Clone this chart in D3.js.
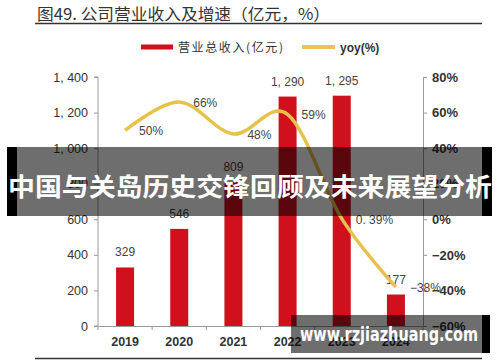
<!DOCTYPE html>
<meta charset="utf-8">
<style>
body { margin: 0; background: #fff; }
svg { display: block; }
.cn { font-family: "Noto Sans CJK SC", sans-serif; }
.num { font-family: "Liberation Sans", Arial, sans-serif; }
</style>
<body>
<script src="https://d3js.org/d3.v7.min.js"></script>
<script>

var years = ["2019", "2020", "2021", "2022", "2023", "2024"];
var revenue = [329, 546, 809, 1290, 1295, 177];
var yoy = [50, 66, 48, 59, 0.39, -38];
var leftTicks = [0, 200, 400, 600, 800, 1000, 1200, 1400];
var rightTicks = [-60, -40, -20, 0, 20, 40, 60, 80];

var width = 500, height = 362;

var svg = d3.select("body").append("svg")
    .attr("width", width)
    .attr("height", height);

var x = d3.scaleBand().domain(years).range([98, 423]);
var y = d3.scaleLinear().domain([0, 1400]).range([326, 77]);
var y2 = d3.scaleLinear().domain([-60, 80]).range([326, 77]);

var fmt = function(v) { return d3.format(",")(v).replace(",", ", "); };

// title
svg.append("text").attr("class", "cn")
    .attr("x", 37).attr("y", 20)
    .attr("textLength", 293).attr("lengthAdjust", "spacingAndGlyphs")
    .style("font-size", "16px").style("font-weight", 400).style("fill", "#333")
    .text("图49. 公司营业收入及增速（亿元，%）");
svg.append("line").attr("x1", 35).attr("x2", 482).attr("y1", 23.5).attr("y2", 23.5)
    .style("stroke", "#333").style("stroke-width", 1.5);

// legend
svg.append("rect").attr("x", 141).attr("y", 44.5).attr("width", 32).attr("height", 5)
    .style("fill", "#d0101c");
svg.append("text").attr("class", "cn").attr("x", 178).attr("y", 51.5)
    .attr("textLength", 105)
    .style("font-size", "12px").style("fill", "#333").text("营业总收入(亿元)");
svg.append("line").attr("x1", 302).attr("x2", 335).attr("y1", 47).attr("y2", 47)
    .style("stroke", "#e8c25a").style("stroke-width", 4);
svg.append("text").attr("class", "num").attr("x", 340).attr("y", 51.5)
    .style("font-size", "12px").style("font-weight", "bold").style("fill", "#333").text("yoy(%)");

// axes
var axisColor = "#9a9a9a";
var gl = svg.append("g").attr("transform", "translate(98,0)")
    .call(d3.axisLeft(y).tickValues(leftTicks).tickSize(4).tickFormat(fmt));
var gr = svg.append("g").attr("transform", "translate(423,0)")
    .call(d3.axisRight(y2).tickValues(rightTicks).tickSize(4).tickFormat(function(d) {
      return (d < 0 ? "\u2212" + (-d) : d) + "%";
    }));
var gb = svg.append("g").attr("transform", "translate(0,326)")
    .call(d3.axisBottom(x).tickSize(0).tickPadding(11));
gb.selectAll(".tick").append("line")
    .attr("x1", -x.bandwidth() / 2).attr("x2", -x.bandwidth() / 2).attr("y2", 4);
gb.append("line").attr("x1", 423).attr("x2", 423).attr("y2", 4);

[gl, gr, gb].forEach(function(g) {
  g.select(".domain").style("stroke", axisColor);
  g.selectAll("line").style("stroke", axisColor);
  g.selectAll("text").style("fill", "#333").style("font-size", "12.5px")
      .style("font-family", "'Liberation Sans', Arial, sans-serif");
});
gl.select(".domain").attr("d", "M-4,77H0V326H-4");
gr.selectAll("text").style("font-family", "'Liberation Sans Narrow', 'Liberation Sans', sans-serif")
    .style("font-size", "13px").style("font-weight", "bold").attr("x", 9);
gl.selectAll("text").attr("x", -10);
gb.selectAll("text").style("font-weight", "bold");

// bars
var bw = 18;
svg.selectAll(".bar").data(revenue).enter().append("rect")
    .attr("class", "bar")
    .attr("x", function(d, i) { return x(years[i]) + x.bandwidth() / 2 - bw / 2; })
    .attr("y", function(d) { return y(d); })
    .attr("width", bw)
    .attr("height", function(d) { return y(0) - y(d); })
    .style("fill", "#d0101c");

svg.selectAll(".blab").data(revenue).enter().append("text")
    .attr("class", "num")
    .attr("x", function(d, i) { return x(years[i]) + x.bandwidth() / 2; })
    .attr("y", function(d) { return y(d) - 11; })
    .attr("text-anchor", "middle")
    .style("font-size", "12px").style("fill", "#444")
    .text(fmt);

// yoy line
var line = d3.line()
    .x(function(d, i) { return x(years[i]) + x.bandwidth() / 2; })
    .y(function(d) { return y2(d); })
    .curve(d3.curveCardinal.tension(0));
svg.append("path").datum(yoy)
    .attr("d", line)
    .style("fill", "none").style("stroke", "#e8c04c").style("stroke-width", 3.5);

svg.selectAll(".ylab").data(yoy).enter().append("text")
    .attr("class", "num")
    .attr("x", function(d, i) { return x(years[i]) + x.bandwidth() / 2 + 14; })
    .attr("y", function(d) { return y2(d) + 5; })
    .style("font-size", "12px").style("fill", "#444")
    .text(function(d) { return (d < 0 ? "\u2212" + (-d) : String(d).replace(".", ". ")) + "%"; });

// bottom rule
svg.append("line").attr("x1", 35).attr("x2", 482).attr("y1", 358.5).attr("y2", 358.5)
    .style("stroke", "#333").style("stroke-width", 1.5);

// overlay banner (black ends, translucent middle)
svg.append("rect").attr("x", 7).attr("y", 147).attr("width", 10).attr("height", 69).style("fill", "#000");
svg.append("rect").attr("x", 482).attr("y", 147).attr("width", 10).attr("height", 69).style("fill", "#000");
svg.append("rect").attr("x", 17).attr("y", 147).attr("width", 465).attr("height", 69)
    .style("fill", "#000").style("opacity", 0.57);
svg.append("text").attr("class", "cn")
    .attr("x", 250).attr("y", 196).attr("text-anchor", "middle")
    .attr("textLength", 484).attr("lengthAdjust", "spacingAndGlyphs")
    .style("font-size", "25.5px").style("font-weight", "bold").style("fill", "#fff")
    .text("中国与关岛历史交锋回顾及未来展望分析");

// watermark
svg.append("rect").attr("x", 482).attr("y", 315).attr("width", 8).attr("height", 38).style("fill", "#000");
svg.append("rect").attr("x", 291).attr("y", 315).attr("width", 191).attr("height", 38)
    .style("fill", "#000").style("opacity", 0.57);
svg.append("text").attr("class", "num")
    .attr("x", 300).attr("y", 341)
    .attr("textLength", 178).attr("lengthAdjust", "spacingAndGlyphs")
    .style("font-family", "'DejaVu Sans', sans-serif")
    .style("font-size", "19px").style("font-weight", "bold").style("fill", "#fff")
    .text("www.rzjiazhuang.com");
</script>
